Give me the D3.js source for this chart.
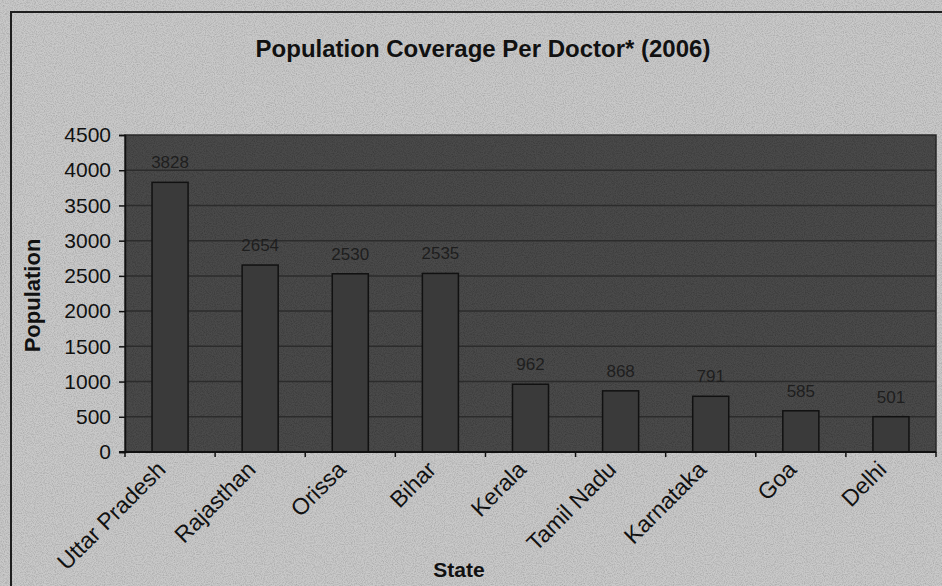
<!DOCTYPE html>
<html><head><meta charset="utf-8">
<script src="https://cdn.jsdelivr.net/npm/d3@7"></script>
<style>
html,body{margin:0;padding:0;background:#c8c8c8;}
svg{display:block;font-family:"Liberation Sans",Arial,sans-serif;}
</style></head>
<body>
<svg id="chart" width="942" height="586"></svg>
<script>
const states = ["Uttar Pradesh","Rajasthan","Orissa","Bihar","Kerala","Tamil Nadu","Karnataka","Goa","Delhi"];
const population = [3828,2654,2530,2535,962,868,791,585,501];
const yTicks = [0,500,1000,1500,2000,2500,3000,3500,4000,4500];

const svg = d3.select("#chart");
const W = 942, H = 586;
const m = {left:125, right:6, top:135, bottom:134};
const pw = W - m.left - m.right, ph = H - m.top - m.bottom;

// paper-like noise filter
const defs = svg.append("defs");
const f = defs.append("filter").attr("id","noise").attr("x",0).attr("y",0).attr("width","100%").attr("height","100%");
f.append("feTurbulence").attr("type","fractalNoise").attr("baseFrequency",0.9).attr("numOctaves",2).attr("seed",3).attr("result","t");
f.append("feColorMatrix").attr("type","matrix")
  .attr("values","0 0 0 0 0  0 0 0 0 0  0 0 0 0 0  0 0 0 -1.2 0.75");

svg.append("rect").attr("width",W).attr("height",H).attr("fill","#c9c9c9");
svg.append("rect").attr("width",W).attr("height",H).attr("filter","url(#noise)").attr("opacity",0.25);

// outer chart border
svg.append("path").attr("d",`M11,${H} L11,12 L${W},12`).attr("fill","none").attr("stroke","#1e1e1e").attr("stroke-width",2);

const x = d3.scaleBand().domain(states).range([m.left, m.left+pw]).paddingInner(0.6).paddingOuter(0.3);
const y = d3.scaleLinear().domain([0,4500]).range([m.top+ph, m.top]);

// plot area
svg.append("rect").attr("x",m.left).attr("y",m.top).attr("width",pw).attr("height",ph)
  .attr("fill","#4a4a4a").attr("stroke","#2a2a2a").attr("stroke-width",1.5);
svg.append("rect").attr("x",m.left).attr("y",m.top).attr("width",pw).attr("height",ph)
  .attr("filter","url(#noise)").attr("opacity",0.35);

// gridlines
svg.append("g").selectAll("line").data(yTicks.slice(1,-1)).join("line")
  .attr("x1",m.left).attr("x2",m.left+pw).attr("y1",d=>y(d)).attr("y2",d=>y(d))
  .attr("stroke","#2c2c2c").attr("stroke-width",1.5);

// bars
svg.append("g").selectAll("rect").data(states).join("rect")
  .attr("x",d=>x(d)).attr("width",x.bandwidth())
  .attr("y",(d,i)=>y(population[i])).attr("height",(d,i)=>y(0)-y(population[i]))
  .attr("fill","#3a3a3a").attr("stroke","#111").attr("stroke-width",1.5);

// value labels
svg.append("g").selectAll("text").data(states).join("text")
  .attr("x",d=>x(d)+x.bandwidth()/2).attr("y",(d,i)=>y(population[i])-14)
  .attr("text-anchor","middle").attr("font-size",17).attr("fill","#1e1e1e")
  .text((d,i)=>population[i]);

// y axis
const yAxis = d3.axisLeft(y).tickValues(yTicks).tickSize(6).tickPadding(8).tickFormat(d3.format("d"));
const gy = svg.append("g").attr("transform",`translate(${m.left},0)`).call(yAxis);
gy.select(".domain").attr("stroke","#111").attr("stroke-width",1.5);
gy.selectAll(".tick line").attr("stroke","#111").attr("stroke-width",1.5);
gy.selectAll(".tick text").attr("font-size",21).attr("fill","#111").attr("font-family","Liberation Sans, Arial, sans-serif");

// x axis
const xAxisScale = d3.scaleLinear().domain([0,states.length]).range([m.left,m.left+pw]);
const gx = svg.append("g").attr("transform",`translate(0,${m.top+ph})`);
gx.append("line").attr("x1",m.left-6).attr("x2",m.left+pw).attr("stroke","#111").attr("stroke-width",2);
gx.selectAll("line.tk").data(d3.range(states.length+1)).join("line").attr("class","tk")
  .attr("x1",d=>xAxisScale(d)).attr("x2",d=>xAxisScale(d)).attr("y1",0).attr("y2",5)
  .attr("stroke","#111").attr("stroke-width",1.5);
gx.selectAll("text").data(states).join("text")
  .attr("transform",d=>`translate(${x(d)+x.bandwidth()/2-3},${19}) rotate(-45)`)
  .attr("text-anchor","end").attr("font-size",23).attr("fill","#111")
  .text(d=>d);

// titles
svg.append("text").attr("x",483).attr("y",57).attr("text-anchor","middle")
  .attr("font-size",24).attr("font-weight","bold").attr("fill","#111")
  .text("Population Coverage Per Doctor* (2006)");
svg.append("text").attr("transform",`translate(40,${m.top+ph/2+2}) rotate(-90)`)
  .attr("text-anchor","middle").attr("font-size",22).attr("font-weight","bold").attr("fill","#111")
  .text("Population");
svg.append("text").attr("x",459).attr("y",577).attr("text-anchor","middle")
  .attr("font-size",21).attr("font-weight","bold").attr("fill","#111")
  .text("State");
</script>
</body></html>
